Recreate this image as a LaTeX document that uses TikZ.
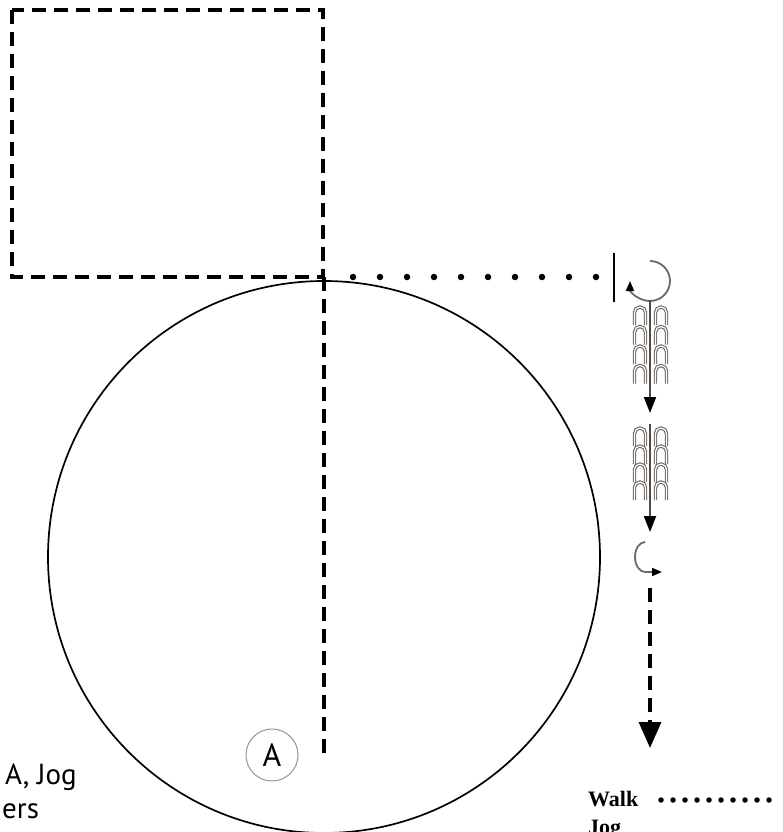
\documentclass[tikz,border=0pt]{standalone}
\usepackage{fontspec}
\setmainfont{Liberation Serif}
\newfontfamily\lblfont{PT Sans}
\usetikzlibrary{positioning,arrows.meta}
\definecolor{archgray}{RGB}{110,102,96}

\begin{document}
\begin{tikzpicture}[x=1pt,y=-1pt,>=Stealth,
  dsh/.style={line width=3.2pt,dash pattern=on 14pt off 8pt},
  wdot/.style={circle,fill=black,inner sep=0pt,minimum size=6.5pt},
  ldot/.style={circle,fill=black,inner sep=0pt,minimum size=5.5pt},
  arch/.style={draw=archgray,line width=1.1pt,double=white,double distance=1.2pt},
  jogline/.style={draw=black!70,line width=2pt,-{Triangle[length=16pt,width=12pt,color=black]}},
  lbl/.style={font=\lblfont\fontsize{29}{30}\selectfont,inner sep=0pt}]
\clip (0,0) rectangle (783,832);
% field
\draw[dsh] (12,10) rectangle (323,277);
\draw[dsh] (324,277) -- (324,758);
\draw[line width=1.7pt] (324,557) circle[radius=276];
\node[draw=archgray!70,line width=1pt,circle,minimum size=52pt,inner sep=0pt,font=\lblfont\fontsize{32}{32}\selectfont] (start) at (272,755) {A};
% walk
\foreach \i in {0,...,9} \node[wdot] (w\i) at (353+27*\i,277) {};
\draw[line width=2.4pt] (614,253) -- (614,302);
\draw[line width=1.8pt,archgray,-{Triangle[length=10pt,width=8pt,color=black]}] (650,261) arc[start angle=-90,end angle=180,radius=20];
% jog groups
\coordinate (j1a) at (650,300); \coordinate (j1b) at (650,413);
\coordinate (j2a) at (650,424); \coordinate (j2b) at (650,532);
\foreach \y in {307,326.5,346,365.5,428,446,464,482} {
  \draw[arch] (634.5,\y+18) -- (634.5,\y+5.5) arc[start angle=180,end angle=360,radius=5.5] -- (645.5,\y+18);
  \draw[arch] (655.5,\y+18) -- (655.5,\y+5.5) arc[start angle=180,end angle=360,radius=5.5] -- (666.5,\y+18);
}
\draw[jogline] (j1a) -- (j1b);
\draw[jogline] (j2a) -- (j2b);
% turn and dashed run
\draw[line width=1.8pt,archgray,-{Triangle[length=10pt,width=8pt,color=black]}] (645,542) arc[start angle=270,end angle=90,x radius=10,y radius=15] -- ++(17,0);
\coordinate (r1) at (650,588); \coordinate (r2) at (650,748);
\draw[line width=3.4pt,dash pattern=on 14pt off 8pt,-{Triangle[length=26pt,width=22pt]}] (r1) -- (r2);
% labels
\node[lbl,anchor=base west] (note1) at (5,784) {A, Jog};
\node[lbl,anchor=base west] (note2) at (2,818) {ers};
\node[font=\bfseries\fontsize{22}{24}\selectfont,inner sep=0pt,anchor=base west] (walk) at (588,806) {Walk};
\foreach \i in {0,...,9} \node[ldot] (l\i) at (661+12*\i,800) {};
\node[font=\bfseries\fontsize{22}{24}\selectfont,inner sep=0pt,anchor=base west] (jog) at (588,834) {Jog};
\end{tikzpicture}
\end{document}
